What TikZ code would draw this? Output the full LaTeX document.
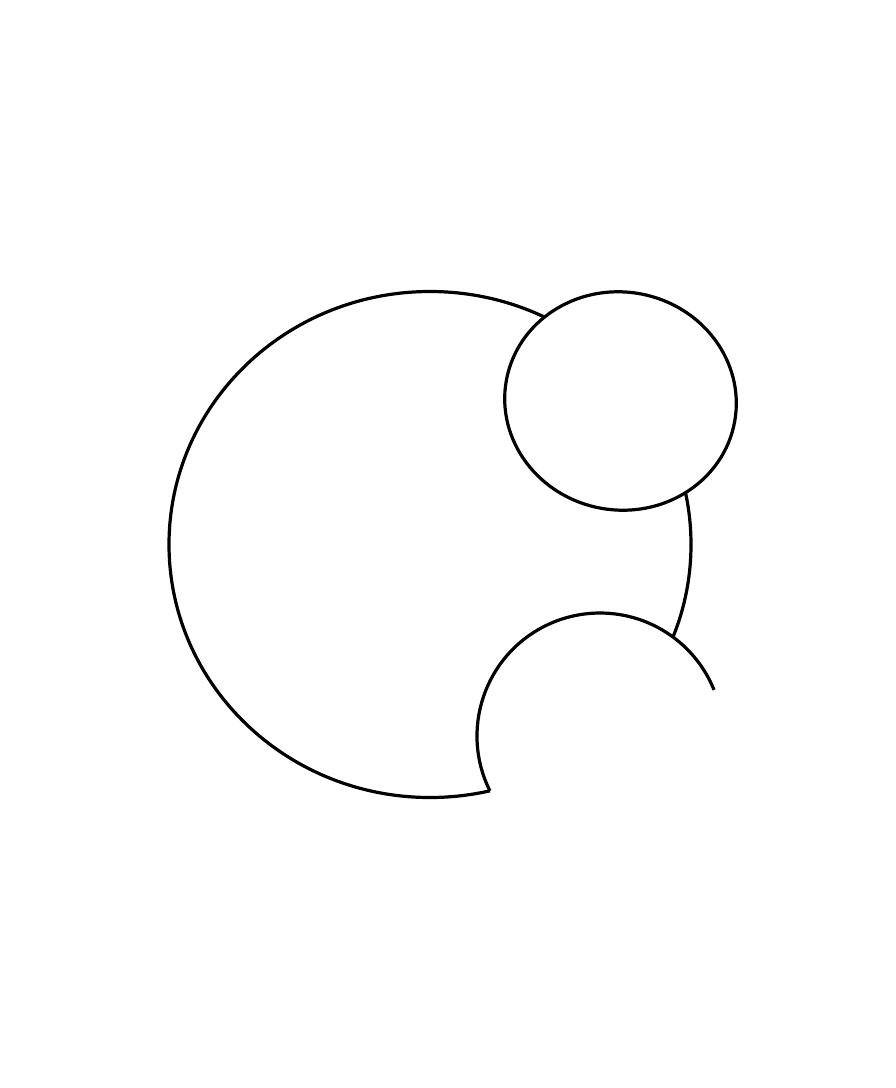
\documentclass[tikz,border=0pt]{standalone}
\begin{document}
\begin{tikzpicture}[x=1pt,y=-1pt,
  outline/.style={draw=black,line width=3.2pt},
  blank/.style={fill=white}]
\fill[white] (0,0) rectangle (896,1088);
\useasboundingbox (0,0) rectangle (896,1088);
% large body
\draw[outline] (430,544.5) ellipse[x radius=261, y radius=253];
% lower bite: hide the body inside it, then draw its arc
\fill[blank] (600,736) circle[radius=123];
\draw[outline] (600,736) ++(153.5:123) arc[start angle=153.5, end angle=338, radius=123];
% upper small circle
\begin{scope}[shift={(620.5,401)}, rotate=-10]
  \filldraw[outline,blank] (0,0) ellipse[x radius=116, y radius=109];
\end{scope}
\end{tikzpicture}
\end{document}
